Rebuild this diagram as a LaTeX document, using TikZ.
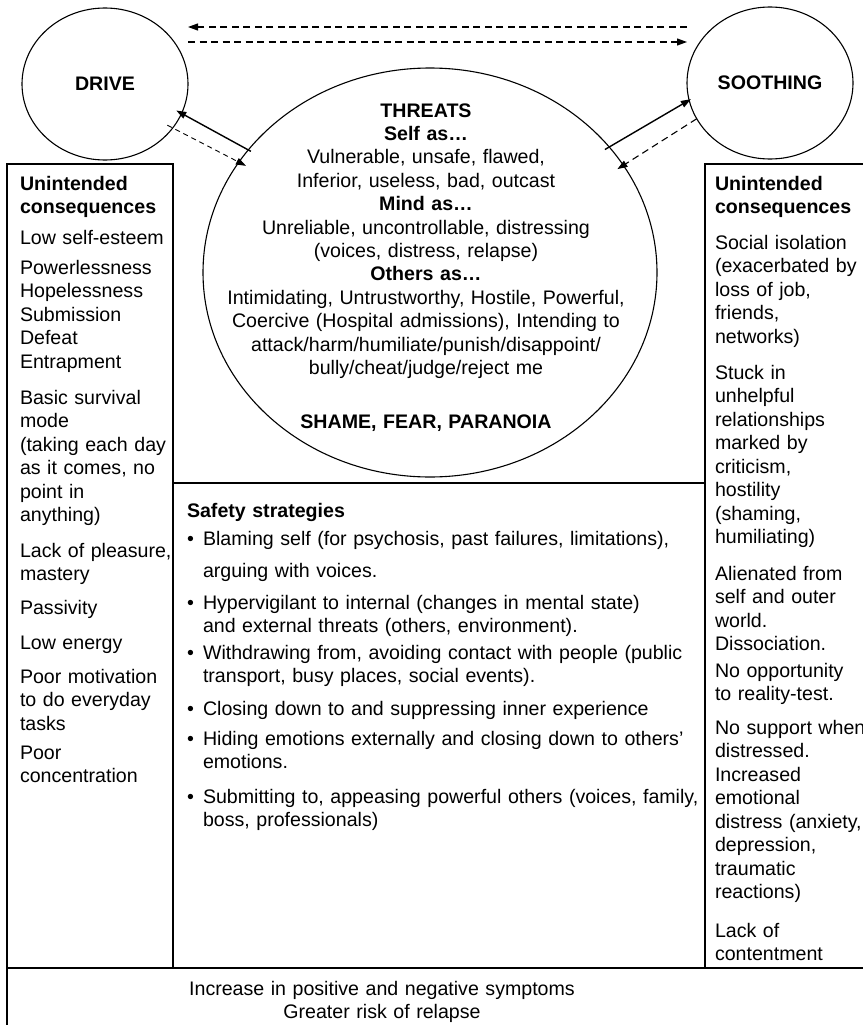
\documentclass[tikz,border=0pt]{standalone}
\usepackage{fontspec}
\setmainfont{Liberation Sans}
\usetikzlibrary{shapes.geometric,arrows.meta}
\newcommand{\mysz}{\fontsize{19.6}{23.5}\selectfont}
\begin{document}
\begin{tikzpicture}[x=1pt,y=-1pt,
  every node/.style={inner sep=0pt, outer sep=0pt, font=\mysz},
  sysellipse/.style={draw, ellipse, line width=1.1pt, inner sep=0pt},
  frameline/.style={line width=1.3pt, line cap=rect},
  coltext/.style={anchor=base west, text width=175pt, align=left},
  widecol/.style={anchor=base west, text width=260pt, align=left},
  safetext/.style={anchor=base west, text width=520pt, align=left},
  bulletmark/.style={anchor=base west},
  solidarrow/.style={line width=1.4pt, -{Triangle[length=10pt,width=7pt]}},
  dasharrow/.style={line width=1.1pt, dash pattern=on 7pt off 4.5pt, -{Triangle[length=10pt,width=7pt]}},
  thindash/.style={line width=0.9pt, dash pattern=on 5pt off 4pt, -{Triangle[length=10pt,width=7pt]}},
]
\useasboundingbox (0,0) rectangle (862,1025);

% frames
\draw[frameline] (7,1040) -- (7,164) -- (173,164) -- (173,968);
\draw[frameline] (705,968) -- (705,164) -- (880,164);
\draw[frameline] (173,483) -- (705,483);
\draw[frameline] (7,968) -- (880,968);

% systems
\node[sysellipse, minimum width=166pt, minimum height=152pt, font=\mysz\bfseries] (drive) at (105,84) {DRIVE};
\node[sysellipse, minimum width=166pt, minimum height=152pt, font=\mysz\bfseries] (soothing) at (770,83) {SOOTHING};
\node[sysellipse, minimum width=454pt, minimum height=409pt] (threats) at (430,272.5) {};

% threats text
\node[anchor=base, text width=470pt, align=center, font=\fontsize{19.6}{23.4}\selectfont] (threatstext) at (426,117)
  {\textbf{THREATS}\\
   \textbf{Self as…}\\
   Vulnerable, unsafe, flawed,\\
   Inferior, useless, bad, outcast\\
   \textbf{Mind as…}\\
   Unreliable, uncontrollable, distressing\\
   (voices, distress, relapse)\\
   \textbf{Others as…}\\
   Intimidating, Untrustworthy, Hostile, Powerful,\\
   Coercive (Hospital admissions), Intending to\\
   attack/harm/humiliate/punish/disappoint/\\
   bully/cheat/judge/reject me\\[31pt]
   \textbf{SHAME, FEAR, PARANOIA}};

% connectors
\draw[dasharrow] (soothing.west |- 0,27) -- (drive.east |- 0,27);
\draw[dasharrow] (drive.east |- 0,42) -- (soothing.west |- 0,42);
\draw[solidarrow, shorten <=-3pt, shorten >=-6pt] (threats.146) -- (drive.-21);
\draw[thindash, shorten <=-6pt, shorten >=-8pt] (drive.-33) -- (threats.150);
\draw[solidarrow, shorten <=-5pt, shorten >=-2pt] (threats.35) -- (soothing.-168);
\draw[dasharrow, shorten >=-7pt] (soothing.206) -- (threats.29.5);

% left column
\node[coltext] (l1) at (20,190) {\textbf{Unintended}\\\textbf{consequences}};
\node[coltext] (l2) at (20,244) {Low self-esteem};
\node[coltext] (l3) at (20,274) {Powerlessness\\Hopelessness\\Submission\\Defeat\\Entrapment};
\node[coltext] (l4) at (20,404) {Basic survival\\mode\\(taking each day\\as it comes, no\\point in\\anything)};
\node[coltext] (l5) at (20,557) {Lack of pleasure,\\mastery};
\node[coltext] (l6) at (20,614) {Passivity};
\node[coltext] (l7) at (20,649) {Low energy};
\node[coltext] (l8) at (20,683) {Poor motivation\\to do everyday\\tasks};
\node[coltext] (l9) at (20,759) {Poor\\concentration};

% right column
\node[widecol] (r1) at (715,190) {\textbf{Unintended}\\\textbf{consequences}};
\node[widecol] (r2) at (715,249) {Social isolation\\(exacerbated by\\loss of job,\\friends,\\networks)};
\node[widecol] (r3) at (715,379) {Stuck in\\unhelpful\\relationships\\marked by\\criticism,\\hostility\\(shaming,\\humiliating)};
\node[widecol] (r4) at (715,580) {Alienated from\\self and outer\\world.\\Dissociation.};
\node[widecol] (r5) at (715,677) {No opportunity\\to reality-test.};
\node[widecol] (r6) at (715,734) {No support when\\distressed.\\Increased\\emotional\\distress (anxiety,\\depression,\\traumatic\\reactions)};
\node[widecol] (r7) at (715,937) {Lack of\\contentment};

% safety strategies
\node[safetext] (safetitle) at (187,517) {\textbf{Safety strategies}};
\node[bulletmark] (b1m) at (187,545) {•};
\node[safetext] (b1) at (203,545) {Blaming self (for psychosis, past failures, limitations),};
\node[safetext] (b1b) at (203,577) {arguing with voices.};
\node[bulletmark] (b2m) at (187,609) {•};
\node[safetext] (b2) at (203,609) {Hypervigilant to internal (changes in mental state)\\and external threats (others, environment).};
\node[bulletmark] (b3m) at (187,659) {•};
\node[safetext] (b3) at (203,659) {Withdrawing from, avoiding contact with people (public\\transport, busy places, social events).};
\node[bulletmark] (b4m) at (187,715) {•};
\node[safetext] (b4) at (203,715) {Closing down to and suppressing inner experience};
\node[bulletmark] (b5m) at (187,745) {•};
\node[safetext] (b5) at (203,745) {Hiding emotions externally and closing down to others’\\emotions.};
\node[bulletmark] (b6m) at (187,803) {•};
\node[safetext] (b6) at (203,803) {Submitting to, appeasing powerful others (voices, family,\\boss, professionals)};

% bottom row
\node[anchor=base, text width=500pt, align=center] (outcome) at (382,995) {Increase in positive and negative symptoms\\Greater risk of relapse};
\end{tikzpicture}
\end{document}
